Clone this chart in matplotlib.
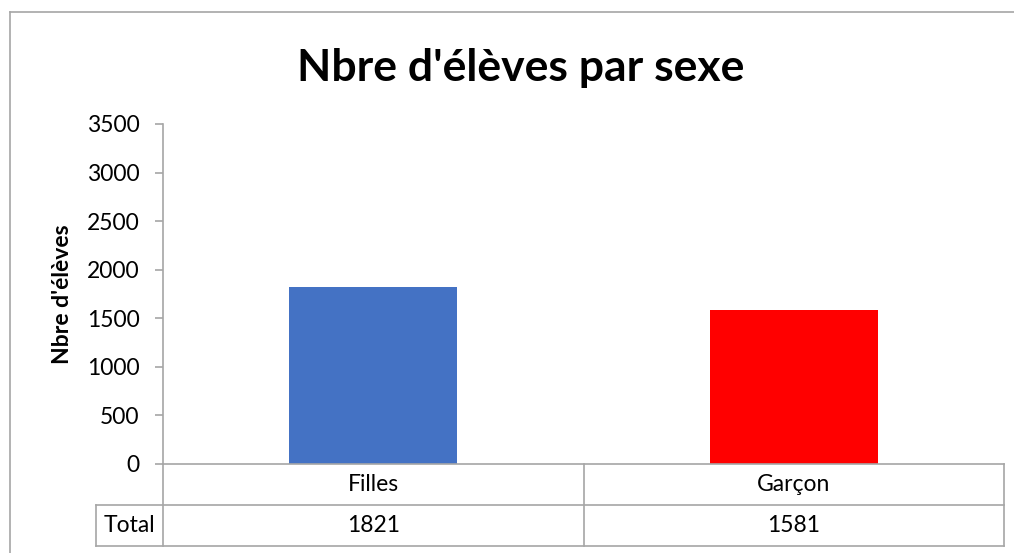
import matplotlib
matplotlib.use('Agg')
import matplotlib.pyplot as plt
from matplotlib.lines import Line2D

# data
categories = ['Filles', 'Garçon']
totals = [1821, 1581]
bar_colors = ['#4472C4', '#FF0000']
row_label = 'Total'
y_ticks = [0, 500, 1000, 1500, 2000, 2500, 3000, 3500]

plt.rcParams['font.family'] = ['Lato', 'DejaVu Sans']
W, H = 1014, 553
fig = plt.figure(figsize=(W / 100, H / 100), dpi=100)

def fx(px):
    return px / W

def fy(py):
    return 1 - py / H

gray = '#A6A6A6'
fs = 16.5

# outer chart border (left and top visible)
fig.add_artist(Line2D([fx(10), fx(10)], [fy(12), 0], color=gray, lw=1.2))
fig.add_artist(Line2D([fx(10), 1], [fy(12), fy(12)], color=gray, lw=1.2))

left, right, top, bottom = 163, 1004, 124, 464
ax = fig.add_axes([fx(left), fy(bottom), fx(right - left), (bottom - top) / H])

x = list(range(len(categories)))
ax.bar(x, totals, width=0.4, color=bar_colors, zorder=2)
ax.set_xlim(-0.5, len(categories) - 0.5)
ax.set_ylim(0, 3500)
ax.set_yticks(y_ticks)
ax.set_xticks([])
ax.tick_params(axis='y', length=6, width=1.2, color=gray, labelsize=fs, pad=11)
for s in ['top', 'right']:
    ax.spines[s].set_visible(False)
ax.spines['left'].set_color(gray)
ax.spines['left'].set_linewidth(1.2)
ax.spines['bottom'].set_color(gray)
ax.spines['bottom'].set_linewidth(1.2)

ax.set_ylabel("Nbre d'élèves", fontsize=16.5, fontweight='bold', labelpad=10)

fig.text(fx(521), fy(68), "Nbre d'élèves par sexe", fontsize=32, fontweight='bold',
         ha='center', va='center')

# data table below the axis
ah = bottom - top
aw = right - left
row_h = 41 / ah
lab_x = (96 - left) / aw
kw = dict(transform=ax.transAxes, clip_on=False, color=gray, lw=1.2)
ax.add_line(Line2D([lab_x, 1], [-row_h, -row_h], **kw))
ax.add_line(Line2D([lab_x, 1], [-2 * row_h, -2 * row_h], **kw))
ax.add_line(Line2D([lab_x, lab_x], [-row_h, -2 * row_h], **kw))
n = len(categories)
for i in range(n + 1):
    xx = i / n
    ax.add_line(Line2D([xx, xx], [0, -2 * row_h], **kw))
for i, (c, v) in enumerate(zip(categories, totals)):
    cx = (i + 0.5) / n
    ax.text(cx, -row_h / 2, c, transform=ax.transAxes, ha='center', va='center', fontsize=fs)
    ax.text(cx, -1.5 * row_h, str(v), transform=ax.transAxes, ha='center', va='center', fontsize=fs)
ax.text(lab_x / 2, -1.5 * row_h, row_label, transform=ax.transAxes, ha='center', va='center', fontsize=fs)

fig.savefig('out.png', dpi=100)
